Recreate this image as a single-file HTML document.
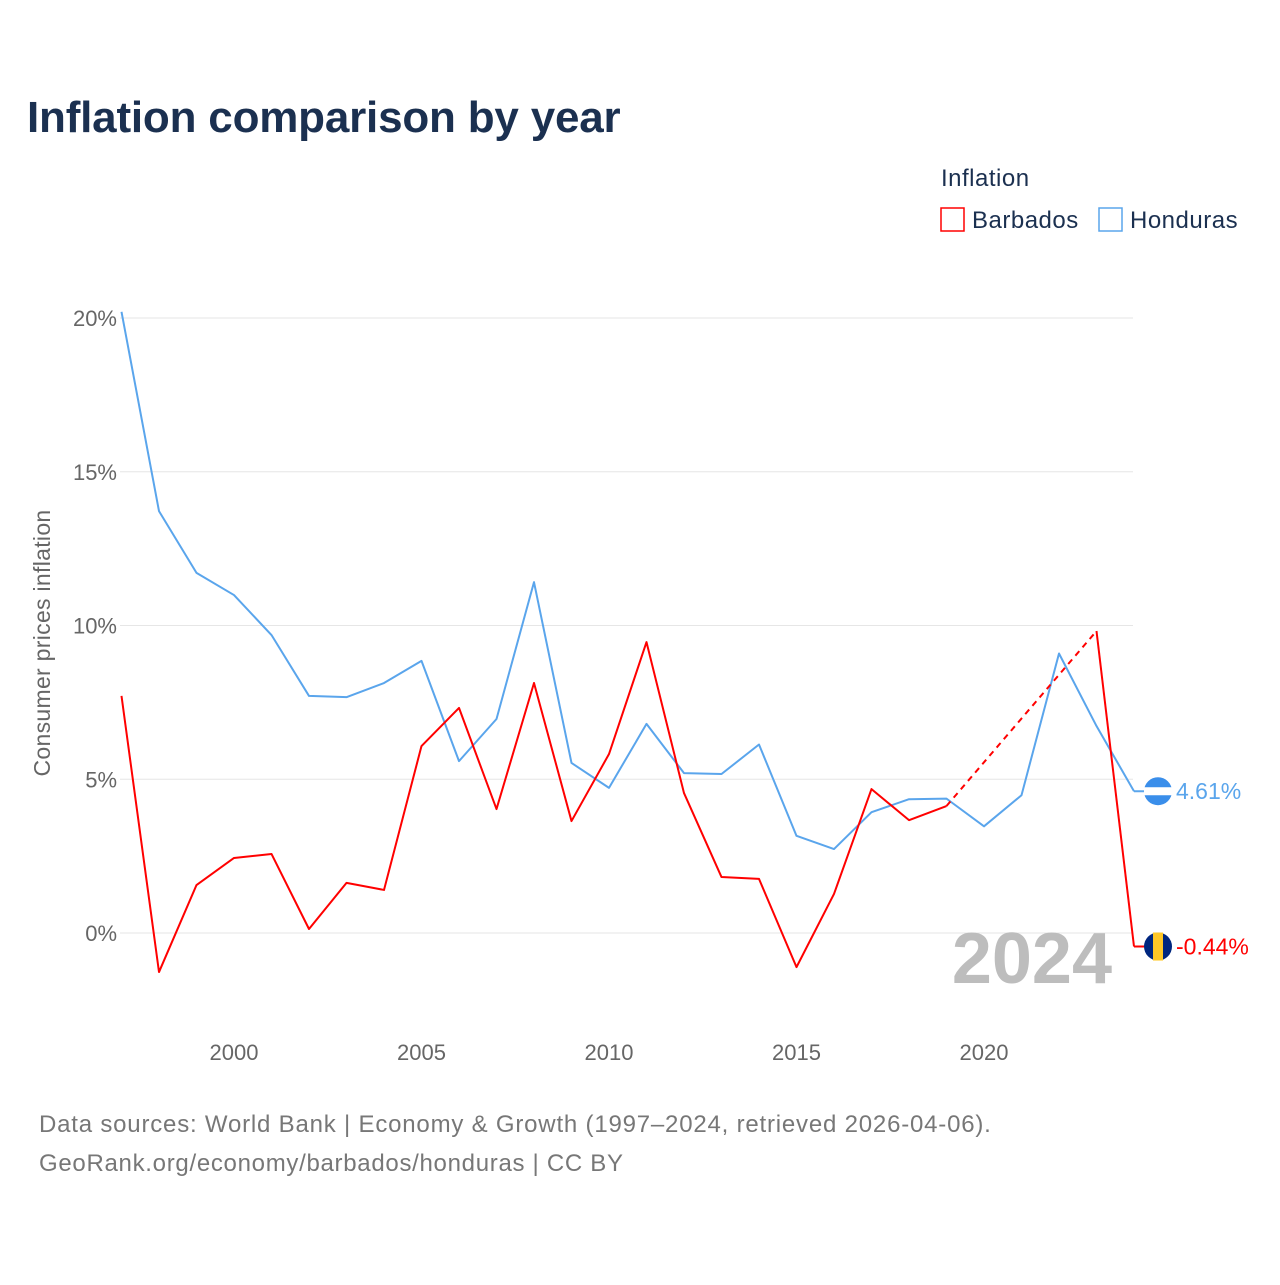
<!DOCTYPE html>
<html><head><meta charset="utf-8"><style>
body{margin:0;background:#fff;font-family:"Liberation Sans",sans-serif}
svg text{font-family:"Liberation Sans",sans-serif}
</style></head><body>
<svg id="chart" width="1280" height="1280" viewBox="0 0 1280 1280">
<text x="27" y="132" font-size="44" font-weight="bold" fill="#1b3050" letter-spacing="-0.2">Inflation comparison by year</text>
<text x="941" y="186" font-size="24" fill="#1b3050" letter-spacing="0.5">Inflation</text>
<g><rect x="941" y="208" width="23" height="23" fill="none" stroke="#ff0000" stroke-width="1.5"/><text x="972" y="228" font-size="24" fill="#1b3050" letter-spacing="0.5">Barbados</text></g>
<g><rect x="1099" y="208" width="23" height="23" fill="none" stroke="#5aa5ec" stroke-width="1.5"/><text x="1130" y="228" font-size="24" fill="#1b3050" letter-spacing="0.5">Honduras</text></g>
<g id="grid"></g><g id="axes"></g><g id="series"></g>
<text x="1112" y="983" font-size="72" font-weight="bold" fill="#bdbdbd" text-anchor="end">2024</text>
<text transform="translate(50,643) rotate(-90)" font-size="23" fill="#666" text-anchor="middle" letter-spacing="0.3">Consumer prices inflation</text>
<text x="39" y="1132" font-size="24" fill="#777" letter-spacing="0.8">Data sources: World Bank | Economy &amp; Growth (1997–2024, retrieved 2026-04-06).</text>
<text x="39" y="1171" font-size="24" fill="#777" letter-spacing="0.7">GeoRank.org/economy/barbados/honduras | CC BY</text>
</svg>
<script>
const years=[1997,1998,1999,2000,2001,2002,2003,2004,2005,2006,2007,2008,2009,2010,2011,2012,2013,2014,2015,2016,2017,2018,2019,2020,2021,2022,2023,2024];
const barbados=[7.71,-1.27,1.56,2.44,2.57,0.13,1.63,1.40,6.08,7.32,4.03,8.13,3.64,5.82,9.46,4.55,1.82,1.76,-1.11,1.27,4.68,3.67,4.13,null,null,null,9.82,-0.44];
const honduras=[20.2,13.72,11.71,10.99,9.69,7.71,7.67,8.13,8.85,5.59,6.96,11.41,5.53,4.72,6.80,5.20,5.17,6.13,3.16,2.73,3.93,4.35,4.37,3.47,4.48,9.09,6.73,4.61];
const yTicks=[0,5,10,15,20];
const xTicks=[2000,2005,2010,2015,2020];
const NS='http://www.w3.org/2000/svg';
const X=y=>121.5+(y-1997)*37.5;
const Y=v=>933-v*30.75;
function mk(t,a,p){const e=document.createElementNS(NS,t);for(const k in a)e.setAttribute(k,a[k]);p.appendChild(e);return e;}
const grid=document.getElementById('grid'),axes=document.getElementById('axes'),ser=document.getElementById('series');
yTicks.forEach(v=>{
 const l=mk('line',{x1:120,x2:1133,y1:Y(v),y2:Y(v),stroke:'#e6e6e6','stroke-width':1},grid);
 
 
 const t=mk('text',{x:117,y:Y(v)+8,'font-size':22,fill:'#666','text-anchor':'end'},axes);
 t.textContent=v+'%';
 
 
});
xTicks.forEach(y=>{
 const t=mk('text',{x:X(y),y:1060,'font-size':22,fill:'#666','text-anchor':'middle'},axes);
 t.textContent=y;
 
 
});
function draw(vals,color,name){
 let segs=[],cur=[],last=null,gaps=[];
 vals.forEach((v,i)=>{
  if(v==null){if(cur.length)segs.push(cur);cur=[];return;}
  if(!cur.length&&last!=null&&last!==i-1)gaps.push([last,i]);
  cur.push([X(years[i]),Y(v)]);last=i;
 });
 if(cur.length)segs.push(cur);
 segs.forEach((s,k)=>{
  const p=mk('polyline',{points:s.map(q=>q.join(',')).join(' '),fill:'none',stroke:color,'stroke-width':2,'stroke-linejoin':'round'},ser);
  
  
 });
 gaps.forEach(g=>{
  const d=mk('line',{x1:X(years[g[0]]),y1:Y(vals[g[0]]),x2:X(years[g[1]]),y2:Y(vals[g[1]]),stroke:color,'stroke-width':2,'stroke-dasharray':'6,5'},ser);
  
  
 });
 const lv=vals[vals.length-1],ly=Y(lv),lx=X(years[years.length-1]);
 mk('line',{x1:lx,y1:ly,x2:1158,y2:ly,stroke:color,'stroke-width':2},ser);
 const c=mk('circle',{cx:1158,cy:ly,r:14,fill:name==='barbados'?'#00267f':'#3a8eea'},ser);
 
 
 if(name==='barbados')mk('rect',{x:1153,y:ly-14,width:10,height:28,fill:'#ffc726'},ser);
 else mk('rect',{x:1144,y:ly-4,width:28,height:8,fill:'#fff'},ser);
 const t=mk('text',{x:1176,y:ly+8,'font-size':23,fill:color},ser);
 t.textContent=lv.toFixed(2)+'%';
 
 
}
draw(honduras,'#5aa5ec','honduras');
draw(barbados,'#ff0000','barbados');
</script>
</body></html>
